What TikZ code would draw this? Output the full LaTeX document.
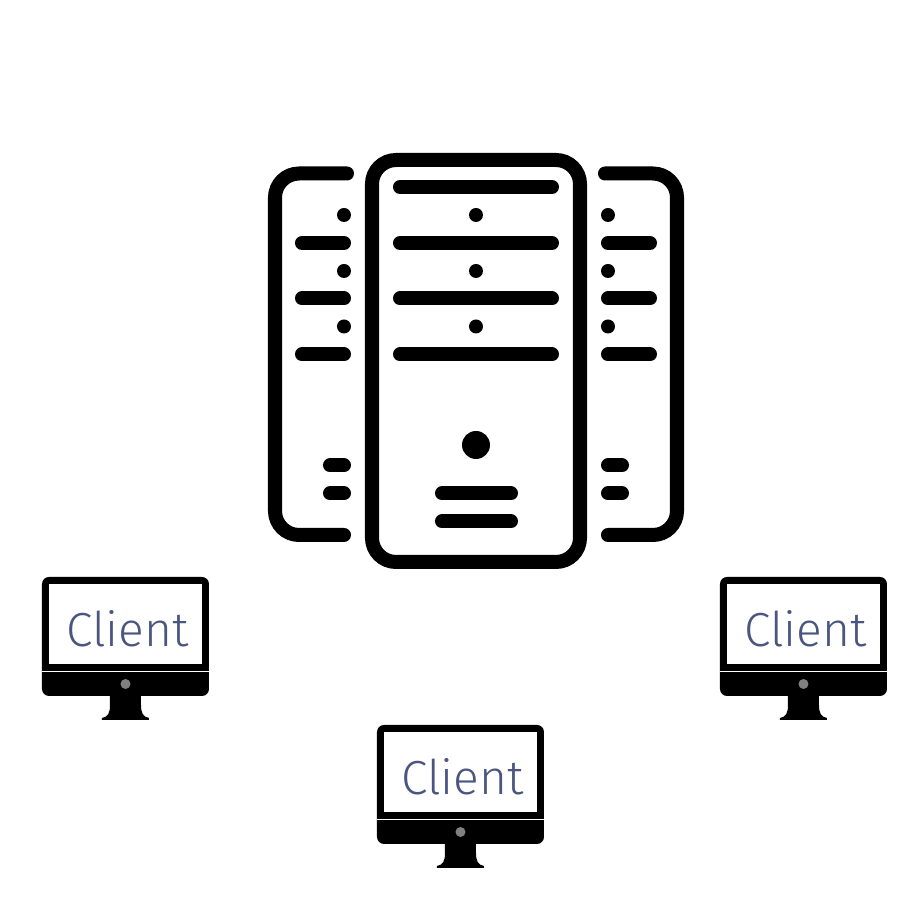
\documentclass[tikz,border=0pt]{standalone}
\usepackage{fontspec}
\setmainfont{Fira Sans Light}
\definecolor{clientblue}{HTML}{4A5580}
\tikzset{
    x=0.01cm, y=-0.01cm,
    case/.style={line width=0.14cm, line cap=round, rounded corners=0.24cm},
    bar/.style={line width=0.14cm, line cap=round},
    clienttext/.style={text=clientblue, font=\fontsize{13.6}{16}\selectfont, inner sep=0pt, anchor=base},
    clientpc/.pic={
        \fill[black, rounded corners=0.07cm] (0,0) rectangle (167,119);
        \fill[white] (7,7) rectangle (160,87);
        \draw[white, line width=0.01cm] (0,95) -- (167,95);
        \fill[black] (68,115) -- (68,128) .. controls (68,136) and (66,140) .. (60,141) -- (60,143) -- (107,143) -- (107,141) .. controls (101,140) and (99,136) .. (99,128) -- (99,115) -- cycle;
        \fill[gray] (83.5,107) circle[radius=5];
        \node[clienttext] (-label) at (85.5,69.5) {Client};
    }
}
\begin{document}
\begin{tikzpicture}
    \useasboundingbox (0,0) rectangle (920,919);

    % tower in the middle
    \draw[case] (372,160) rectangle (580,562);
    \foreach \y in {187,243,298.5,354.5}
        \draw[bar] (400,\y) -- (552,\y);
    \foreach \y in {215,271,326.5}
        \fill (476,\y) circle[radius=7];
    \fill (476,445) circle[radius=14];
    \foreach \y in {493.5,521.5}
        \draw[bar] (442,\y) -- (511,\y);

    % tower on the left
    \draw[case] (347,173.5) -- (275,173.5) -- (275,535) -- (344,535);
    \foreach \y in {243,298.5,354.5}
        \draw[bar] (302,\y) -- (344,\y);
    \foreach \y in {215,271,326.5}
        \fill (344,\y) circle[radius=7];
    \foreach \y in {465.5,493.5}
        \draw[bar] (330,\y) -- (344,\y);

    % tower on the right
    \draw[case] (605,173.5) -- (677,173.5) -- (677,535) -- (608,535);
    \foreach \y in {243,298.5,354.5}
        \draw[bar] (608,\y) -- (650,\y);
    \foreach \y in {215,271,326.5}
        \fill (608,\y) circle[radius=7];
    \foreach \y in {465.5,493.5}
        \draw[bar] (608,\y) -- (622,\y);

    % clients
    \pic (clientleft) at (42,577) {clientpc};
    \pic (clientright) at (720,577) {clientpc};
    \pic (clientbottom) at (377,725) {clientpc};
\end{tikzpicture}
\end{document}
